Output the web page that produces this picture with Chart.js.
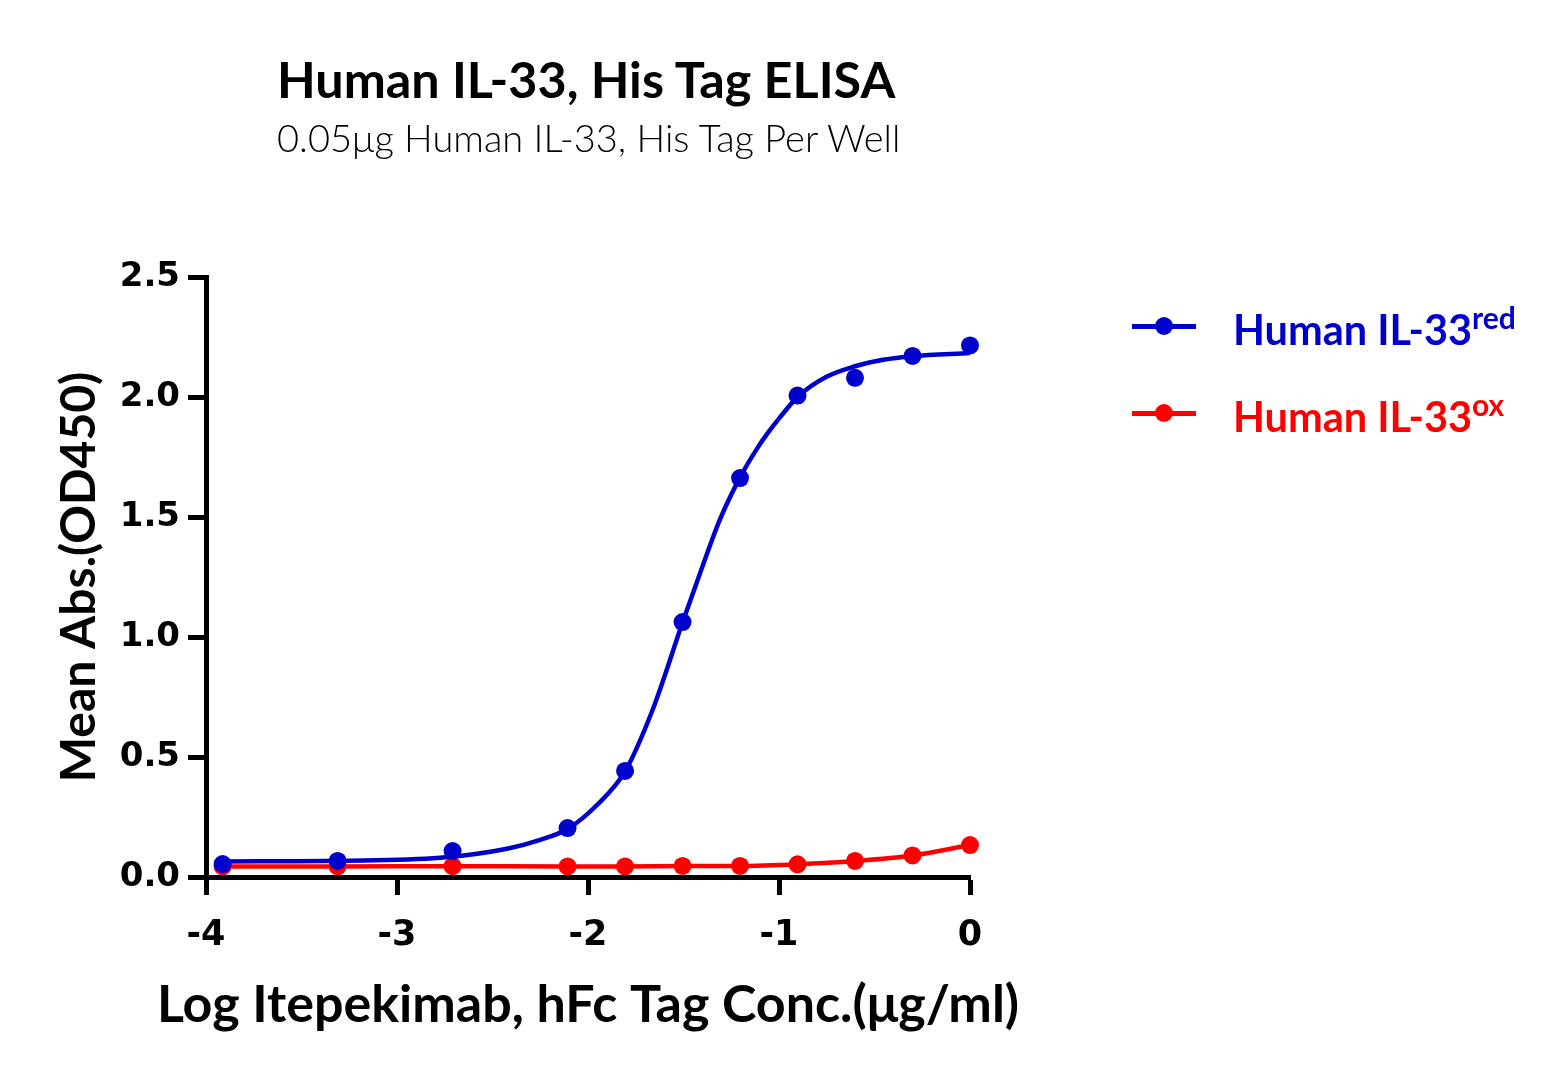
<!DOCTYPE html>
<html>
<head>
<meta charset="utf-8">
<script src="https://cdn.jsdelivr.net/npm/chart.js@4.4.1/dist/chart.umd.min.js"></script>
<style>
  html, body { margin: 0; padding: 0; background: #fff; }
  #wrap { position: relative; width: 1564px; height: 1077px; }
  canvas { position: absolute; left: 0; top: 0; }
  .titulo { position: absolute; left: 277px; top: 48px; font: 700 50.3px Lato, sans-serif; color: #000; white-space: nowrap; }
  .subtitulo { position: absolute; left: 277px; top: 114px; font: 300 38px Lato, sans-serif; color: #000; white-space: nowrap; }
  .legenda { position: absolute; left: 1132px; height: 40px; white-space: nowrap; }
  .legenda .linha { position: absolute; left: 0; top: 18px; width: 64px; height: 5px; }
  .legenda .ponto { position: absolute; left: 23px; top: 11px; width: 18px; height: 18px; border-radius: 50%; }
  .legenda .texto { position: absolute; left: 101px; top: -7px; font: 700 41.5px Lato, sans-serif; }
  .legenda sup { font-size: 30px; vertical-align: 16px; }
</style>
</head>
<body>
<div id="wrap">
  <canvas id="grafico" width="1564" height="1077"></canvas>
  <div class="titulo">Human IL-33, His Tag ELISA</div>
  <div class="subtitulo">0.05μg Human IL-33, His Tag Per Well</div>
  <div class="legenda" style="top:306px">
    <div class="linha" style="background:#0000CC"></div>
    <div class="ponto" style="background:#0000CC"></div>
    <div class="texto" style="color:#0000CC">Human IL-33<sup>red</sup></div>
  </div>
  <div class="legenda" style="top:393px">
    <div class="linha" style="background:#FF0000"></div>
    <div class="ponto" style="background:#FF0000"></div>
    <div class="texto" style="color:#FF0000">Human IL-33<sup>ox</sup></div>
  </div>
</div>
<script>
// Concentração em log (µg/ml) - diluições seriadas
const logConc = [-3.913, -3.311, -2.709, -2.107, -1.806, -1.505, -1.204, -0.903, -0.602, -0.301, 0];

// Absorbâncias médias
const absReduzida = [0.054, 0.067, 0.108, 0.204, 0.442, 1.062, 1.662, 2.006, 2.080, 2.171, 2.215];
const absOxidada = [0.044, 0.044, 0.045, 0.044, 0.044, 0.046, 0.046, 0.053, 0.067, 0.090, 0.133];

// Curva ajustada (azul) lida ponto a ponto do gráfico
const curvaX = [-3.913, -3.311, -2.775, -2.424, -2.25, -2.107, -1.953, -1.806, -1.66, -1.505, -1.398, -1.309, -1.204, -1.115, -1.063, -0.995, -0.903, -0.749, -0.602, -0.455, -0.301, 0];
const curvaY = [0.065, 0.068, 0.08, 0.118, 0.155, 0.2, 0.30, 0.44, 0.70, 1.06, 1.30, 1.49, 1.665, 1.785, 1.845, 1.915, 2.0, 2.085, 2.128, 2.155, 2.17, 2.183];

// Ticks dos eixos
const ticksX = [-4, -3, -2, -1, 0];
const ticksY = [0, 0.5, 1.0, 1.5, 2.0, 2.5];

const tituloX = 'Log Itepekimab, hFc Tag Conc.(μg/ml)';

const AZUL = '#0000CC';
const VERMELHO = '#FF0000';

function pares(xs, ys) {
    return xs.map((x, i) => ({ x: x, y: ys[i] }));
}

// O título do eixo X do Chart.js é comprimido para caber na largura da área,
// então desenhamos ele por conta própria, centralizado na área do gráfico
const tituloEixoX = {
    id: 'tituloEixoX',
    afterDraw(chart) {
        const { ctx, chartArea } = chart;
        ctx.save();
        ctx.font = 'bold 52px Lato';
        ctx.fillStyle = '#000';
        ctx.textAlign = 'center';
        ctx.textBaseline = 'alphabetic';
        ctx.fillText(tituloX, (chartArea.left + chartArea.right) / 2, 1022);
        ctx.restore();
    }
};

const ctx = document.getElementById('grafico').getContext('2d');

new Chart(ctx, {
    type: 'scatter',
    data: {
        datasets: [
            {
                label: 'Human IL-33 red (pontos)',
                data: pares(logConc, absReduzida),
                showLine: false,
                pointRadius: 9,
                pointBackgroundColor: AZUL,
                pointBorderWidth: 0,
                clip: false
            },
            {
                label: 'Human IL-33 red (ajuste)',
                data: pares(curvaX, curvaY),
                showLine: true,
                borderColor: AZUL,
                borderWidth: 4.5,
                pointRadius: 0,
                cubicInterpolationMode: 'monotone',
                clip: false
            },
            {
                label: 'Human IL-33 ox',
                data: pares(logConc, absOxidada),
                showLine: true,
                borderColor: VERMELHO,
                borderWidth: 4.5,
                pointRadius: 9,
                pointBackgroundColor: VERMELHO,
                pointBorderWidth: 0,
                cubicInterpolationMode: 'monotone',
                clip: false
            }
        ]
    },
    options: {
        responsive: false,
        animation: false,
        layout: { padding: { left: 0, top: 277, right: 594, bottom: 0 } },
        plugins: {
            legend: { display: false },
            title: { display: false },
            tooltip: { enabled: false }
        },
        scales: {
            x: {
                type: 'linear',
                min: -4,
                max: 0,
                afterBuildTicks: (escala) => { escala.ticks = ticksX.map(v => ({ value: v })); },
                afterFit: (escala) => { escala.height = 200; },
                grid: { drawOnChartArea: false, drawTicks: true, tickLength: 18, tickWidth: 5, tickColor: '#000' },
                border: { display: true, width: 5, color: '#000' },
                ticks: {
                    color: '#000',
                    padding: 20,
                    font: { family: 'DejaVu Sans', weight: 'bold', size: 35 },
                    callback: (v) => String(v)
                },
                title: { display: false }
            },
            y: {
                type: 'linear',
                min: 0,
                max: 2.5,
                afterBuildTicks: (escala) => { escala.ticks = ticksY.map(v => ({ value: v })); },
                afterFit: (escala) => { escala.width = 206; },
                grid: { drawOnChartArea: false, drawTicks: true, tickLength: 18, tickWidth: 5, tickColor: '#000' },
                border: { display: true, width: 5, color: '#000' },
                ticks: {
                    color: '#000',
                    padding: 8,
                    font: { family: 'DejaVu Sans', weight: 'bold', size: 34 },
                    callback: (v) => v.toFixed(1)
                },
                title: {
                    display: true,
                    text: 'Mean Abs.(OD450)',
                    color: '#000',
                    font: { family: 'Lato', weight: 'bold', size: 48 },
                    padding: { top: 51, bottom: 0 }
                }
            }
        }
    },
    plugins: [tituloEixoX]
});
</script>
</body>
</html>
